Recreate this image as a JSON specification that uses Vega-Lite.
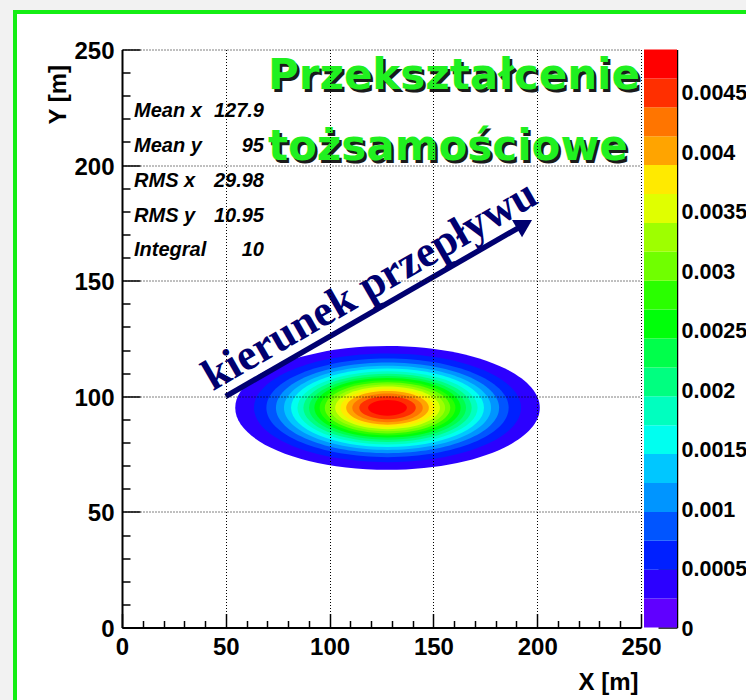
{
  "$schema": "https://vega.github.io/schema/vega-lite/v6.json",
  "background": "#f2f2f2",
  "padding": {"left": 11, "top": 7.5, "right": 0, "bottom": 0},
  "bounds": "flush",
  "spacing": 3,
  "config": {
    "view": {"stroke": null},
    "axis": {
      "labelFont": "Liberation Sans", "labelFontWeight": "bold", "labelColor": "black",
      "titleFont": "Liberation Sans", "titleFontWeight": "bold", "titleColor": "black",
      "tickColor": "black", "domainColor": "black", "labelFlush": false, "labelOverlap": false, "zindex": 1
    },
    "text": {"baseline": "alphabetic"}
  },
  "hconcat": [
    {
      "width": 519,
      "height": 578,
      "resolve": {"axis": {"x": "independent", "y": "independent"}},
      "layer": [
        {
          "data": {"values": [{}]},
          "mark": {"type": "rect", "fill": "white"},
          "encoding": {
            "x": {"datum": -52.5, "type": "quantitative", "scale": {"domain": [0, 250], "nice": false, "zero": false},
              "axis": {"orient": "bottom", "values": [10,20,30,40,60,70,80,90,110,120,130,140,160,170,180,190,210,220,230,240], "labels": false, "domain": false, "grid": false, "title": null, "tickSize": -7, "tickWidth": 1.5, "zindex": 1}},
            "x2": {"datum": 301.3},
            "y": {"datum": 267.08, "type": "quantitative", "scale": {"domain": [0, 250], "nice": false, "zero": false},
              "axis": {"orient": "left", "values": [10,20,30,40,60,70,80,90,110,120,130,140,160,170,180,190,210,220,230,240], "labels": false, "domain": false, "grid": false, "title": null, "tickSize": -8, "tickWidth": 1.5, "zindex": 1}},
            "y2": {"datum": -32.4}
          }
        },
        {
          "data": {"values": [{}]},
          "mark": {"type": "rule", "color": "#14ee14", "strokeWidth": 4},
          "encoding": {
            "x": {"datum": -52.5, "type": "quantitative", "scale": {"domain": [0, 250], "nice": false, "zero": false}, "axis": null},
            "x2": {"datum": 301.3},
            "y": {"datum": 266.22, "type": "quantitative", "scale": {"domain": [0, 250], "nice": false, "zero": false}, "axis": null}
          }
        },
        {
          "data": {"values": [{}]},
          "mark": {"type": "rule", "color": "#14ee14", "strokeWidth": 4},
          "encoding": {
            "x": {"datum": -51.54, "type": "quantitative", "scale": {"domain": [0, 250], "nice": false, "zero": false}, "axis": null},
            "y": {"datum": 267.08, "type": "quantitative", "scale": {"domain": [0, 250], "nice": false, "zero": false}, "axis": null},
            "y2": {"datum": -32.4}
          }
        },
        {
          "data": {"values": [
            {"level": 0.000243, "cx": 127.9, "cy": 95, "hx": 73.35, "hy": 26.79},
            {"level": 0.000486, "cx": 127.9, "cy": 95, "hx": 64.30, "hy": 23.49},
            {"level": 0.000729, "cx": 127.9, "cy": 95, "hx": 58.36, "hy": 21.32},
            {"level": 0.000972, "cx": 127.9, "cy": 95, "hx": 53.75, "hy": 19.63},
            {"level": 0.001215, "cx": 127.9, "cy": 95, "hx": 49.88, "hy": 18.22},
            {"level": 0.001458, "cx": 127.9, "cy": 95, "hx": 46.47, "hy": 16.97},
            {"level": 0.001701, "cx": 127.9, "cy": 95, "hx": 43.39, "hy": 15.85},
            {"level": 0.001944, "cx": 127.9, "cy": 95, "hx": 40.53, "hy": 14.80},
            {"level": 0.002187, "cx": 127.9, "cy": 95, "hx": 37.83, "hy": 13.82},
            {"level": 0.00243, "cx": 127.9, "cy": 95, "hx": 35.24, "hy": 12.87},
            {"level": 0.002673, "cx": 127.9, "cy": 95, "hx": 32.72, "hy": 11.95},
            {"level": 0.002916, "cx": 127.9, "cy": 95, "hx": 30.23, "hy": 11.04},
            {"level": 0.003159, "cx": 127.9, "cy": 95, "hx": 27.75, "hy": 10.14},
            {"level": 0.003402, "cx": 127.9, "cy": 95, "hx": 25.23, "hy": 9.22},
            {"level": 0.003645, "cx": 127.9, "cy": 95, "hx": 22.64, "hy": 8.27},
            {"level": 0.003888, "cx": 127.9, "cy": 95, "hx": 19.92, "hy": 7.28},
            {"level": 0.004131, "cx": 127.9, "cy": 95, "hx": 16.97, "hy": 6.20},
            {"level": 0.004374, "cx": 127.9, "cy": 95, "hx": 13.60, "hy": 4.97},
            {"level": 0.004617, "cx": 127.9, "cy": 95, "hx": 9.37, "hy": 3.42}
          ]},
          "mark": {"type": "point", "shape": "M-1,0A1,0.4068,0,1,1,1,0A1,0.4068,0,1,1,-1,0Z", "filled": true, "opacity": 1, "strokeWidth": 0},
          "encoding": {
            "x": {"field": "cx", "type": "quantitative", "scale": {"domain": [0, 250], "nice": false, "zero": false},
              "axis": {"orient": "bottom", "values": [0,50,100,150,200,250], "format": "d", "grid": true, "gridDash": [1,2], "gridColor": "black", "gridOpacity": 1, "gridWidth": 1,
                "tickSize": -14, "tickWidth": 1.5, "domainWidth": 2, "labelFontSize": 24, "labelPadding": 22,
                "title": "X [m]", "titleFontSize": 24, "titleAlign": "right", "titleBaseline": "alphabetic", "titleX": 516, "titleY": 62, "zindex": 1}},
            "y": {"field": "cy", "type": "quantitative", "scale": {"domain": [0, 250], "nice": false, "zero": false},
              "axis": {"orient": "left", "values": [0,50,100,150,200,250], "format": "d", "grid": true, "gridDash": [1,2], "gridColor": "black", "gridOpacity": 1, "gridWidth": 1,
                "tickSize": -18, "tickWidth": 1.5, "domainWidth": 2, "labelFontSize": 24, "labelPadding": 26, "labelBaseline": "middle", "labelOffset": 2,
                "title": "Y [m]", "titleFontSize": 24, "titleAngle": -90, "titleAlign": "right", "titleBaseline": "alphabetic", "titleX": -57, "titleY": 15, "zindex": 1}},
            "size": {"field": "hx", "type": "quantitative", "scale": {"type": "pow", "exponent": 2, "domain": [0, 250], "range": [0, 1077444], "zero": true}, "legend": null},
            "color": {"field": "level", "type": "quantitative",
              "scale": {"type": "threshold",
                "domain": [0.000243,0.000486,0.000729,0.000972,0.001215,0.001458,0.001701,0.001944,0.002187,0.00243,0.002673,0.002916,0.003159,0.003402,0.003645,0.003888,0.004131,0.004374,0.004617],
                "range": ["#6000ff","#2c00ff","#0020ff","#0055ff","#0095ff","#00c7ff","#00fff0","#00ffbf","#00ff80","#00ff4b","#00ff0a","#2aff00","#70ff00","#9eff00","#e0ff00","#ffea00","#ffa400","#ff7500","#ff2f00","#ff0000"]},
              "legend": null}
          }
        },
        {
          "data": {"values": [{}]},
          "mark": {"type": "text", "text": ["Przekształcenie", "tożsamościowe"], "font": "DejaVu Sans", "fontWeight": "bold", "fontSize": 42, "lineHeight": 71, "align": "left", "color": "#1a1a1a", "dx": 2.5, "dy": 2.5},
          "encoding": {
            "x": {"datum": 70.3, "type": "quantitative", "scale": {"domain": [0, 250], "nice": false, "zero": false}, "axis": null},
            "y": {"datum": 232.7, "type": "quantitative", "scale": {"domain": [0, 250], "nice": false, "zero": false}, "axis": null}
          }
        },
        {
          "data": {"values": [{}]},
          "mark": {"type": "text", "text": ["Przekształcenie", "tożsamościowe"], "font": "DejaVu Sans", "fontWeight": "bold", "fontSize": 42, "lineHeight": 71, "align": "left", "color": "#20f020"},
          "encoding": {
            "x": {"datum": 70.3, "type": "quantitative", "scale": {"domain": [0, 250], "nice": false, "zero": false}, "axis": null},
            "y": {"datum": 232.7, "type": "quantitative", "scale": {"domain": [0, 250], "nice": false, "zero": false}, "axis": null}
          }
        },
        {
          "data": {"values": [{}]},
          "mark": {"type": "text", "text": ["Mean x", "Mean y", "RMS x", "RMS y", "Integral"], "font": "Liberation Sans", "fontWeight": "bold", "fontStyle": "italic", "fontSize": 20, "lineHeight": 34.75, "align": "left", "color": "black"},
          "encoding": {
            "x": {"datum": 5.8, "type": "quantitative", "scale": {"domain": [0, 250], "nice": false, "zero": false}, "axis": null},
            "y": {"datum": 220.6, "type": "quantitative", "scale": {"domain": [0, 250], "nice": false, "zero": false}, "axis": null}
          }
        },
        {
          "data": {"values": [{}]},
          "mark": {"type": "text", "text": ["127.9", "95", "29.98", "10.95", "10"], "font": "Liberation Sans", "fontWeight": "bold", "fontStyle": "italic", "fontSize": 20, "lineHeight": 34.75, "align": "right", "color": "black"},
          "encoding": {
            "x": {"datum": 68.4, "type": "quantitative", "scale": {"domain": [0, 250], "nice": false, "zero": false}, "axis": null},
            "y": {"datum": 220.6, "type": "quantitative", "scale": {"domain": [0, 250], "nice": false, "zero": false}, "axis": null}
          }
        },
        {
          "data": {"values": [{}]},
          "mark": {"type": "rule", "color": "#000070", "strokeWidth": 5.5},
          "encoding": {
            "x": {"datum": 50, "type": "quantitative", "scale": {"domain": [0, 250], "nice": false, "zero": false}, "axis": null},
            "y": {"datum": 100, "type": "quantitative", "scale": {"domain": [0, 250], "nice": false, "zero": false}, "axis": null},
            "x2": {"datum": 193.9},
            "y2": {"datum": 174.4}
          }
        },
        {
          "data": {"values": [{}]},
          "mark": {"type": "point", "shape": "triangle-right", "filled": true, "opacity": 1, "size": 400, "angle": -30, "color": "#000070"},
          "encoding": {
            "x": {"datum": 193.9, "type": "quantitative", "scale": {"domain": [0, 250], "nice": false, "zero": false}, "axis": null},
            "y": {"datum": 174.4, "type": "quantitative", "scale": {"domain": [0, 250], "nice": false, "zero": false}, "axis": null}
          }
        },
        {
          "data": {"values": [{}]},
          "mark": {"type": "text", "text": "kierunek  przepływu", "font": "Liberation Serif", "fontWeight": "bold", "fontSize": 44, "angle": -30, "align": "center", "color": "#000070"},
          "encoding": {
            "x": {"datum": 122.5, "type": "quantitative", "scale": {"domain": [0, 250], "nice": false, "zero": false}, "axis": null},
            "y": {"datum": 143, "type": "quantitative", "scale": {"domain": [0, 250], "nice": false, "zero": false}, "axis": null}
          }
        }
      ]
    },
    {
      "width": 33,
      "height": 578,
      "data": {"values": [
        {"z0": 0, "z1": 0.000243},
        {"z0": 0.000243, "z1": 0.000486},
        {"z0": 0.000486, "z1": 0.000729},
        {"z0": 0.000729, "z1": 0.000972},
        {"z0": 0.000972, "z1": 0.001215},
        {"z0": 0.001215, "z1": 0.001458},
        {"z0": 0.001458, "z1": 0.001701},
        {"z0": 0.001701, "z1": 0.001944},
        {"z0": 0.001944, "z1": 0.002187},
        {"z0": 0.002187, "z1": 0.00243},
        {"z0": 0.00243, "z1": 0.002673},
        {"z0": 0.002673, "z1": 0.002916},
        {"z0": 0.002916, "z1": 0.003159},
        {"z0": 0.003159, "z1": 0.003402},
        {"z0": 0.003402, "z1": 0.003645},
        {"z0": 0.003645, "z1": 0.003888},
        {"z0": 0.003888, "z1": 0.004131},
        {"z0": 0.004131, "z1": 0.004374},
        {"z0": 0.004374, "z1": 0.004617},
        {"z0": 0.004617, "z1": 0.00486}
      ]},
      "mark": {"type": "rect"},
      "encoding": {
        "y": {"field": "z0", "type": "quantitative", "scale": {"domain": [0, 0.00486], "nice": false, "zero": false},
          "axis": {"orient": "right", "values": [0,0.0005,0.001,0.0015,0.002,0.0025,0.003,0.0035,0.004,0.0045], "format": "~g",
            "tickSize": -19, "tickWidth": 1.5, "domainWidth": 1.5, "labelFontSize": 21.5, "labelPadding": 23, "labelBaseline": "middle", "labelOffset": 1.5,
            "title": null, "grid": false}},
        "y2": {"field": "z1"},
        "color": {"field": "z0", "type": "quantitative",
          "scale": {"type": "threshold",
            "domain": [0.000243,0.000486,0.000729,0.000972,0.001215,0.001458,0.001701,0.001944,0.002187,0.00243,0.002673,0.002916,0.003159,0.003402,0.003645,0.003888,0.004131,0.004374,0.004617],
            "range": ["#6000ff","#2c00ff","#0020ff","#0055ff","#0095ff","#00c7ff","#00fff0","#00ffbf","#00ff80","#00ff4b","#00ff0a","#2aff00","#70ff00","#9eff00","#e0ff00","#ffea00","#ffa400","#ff7500","#ff2f00","#ff0000"]},
          "legend": null}
      }
    }
  ]
}
